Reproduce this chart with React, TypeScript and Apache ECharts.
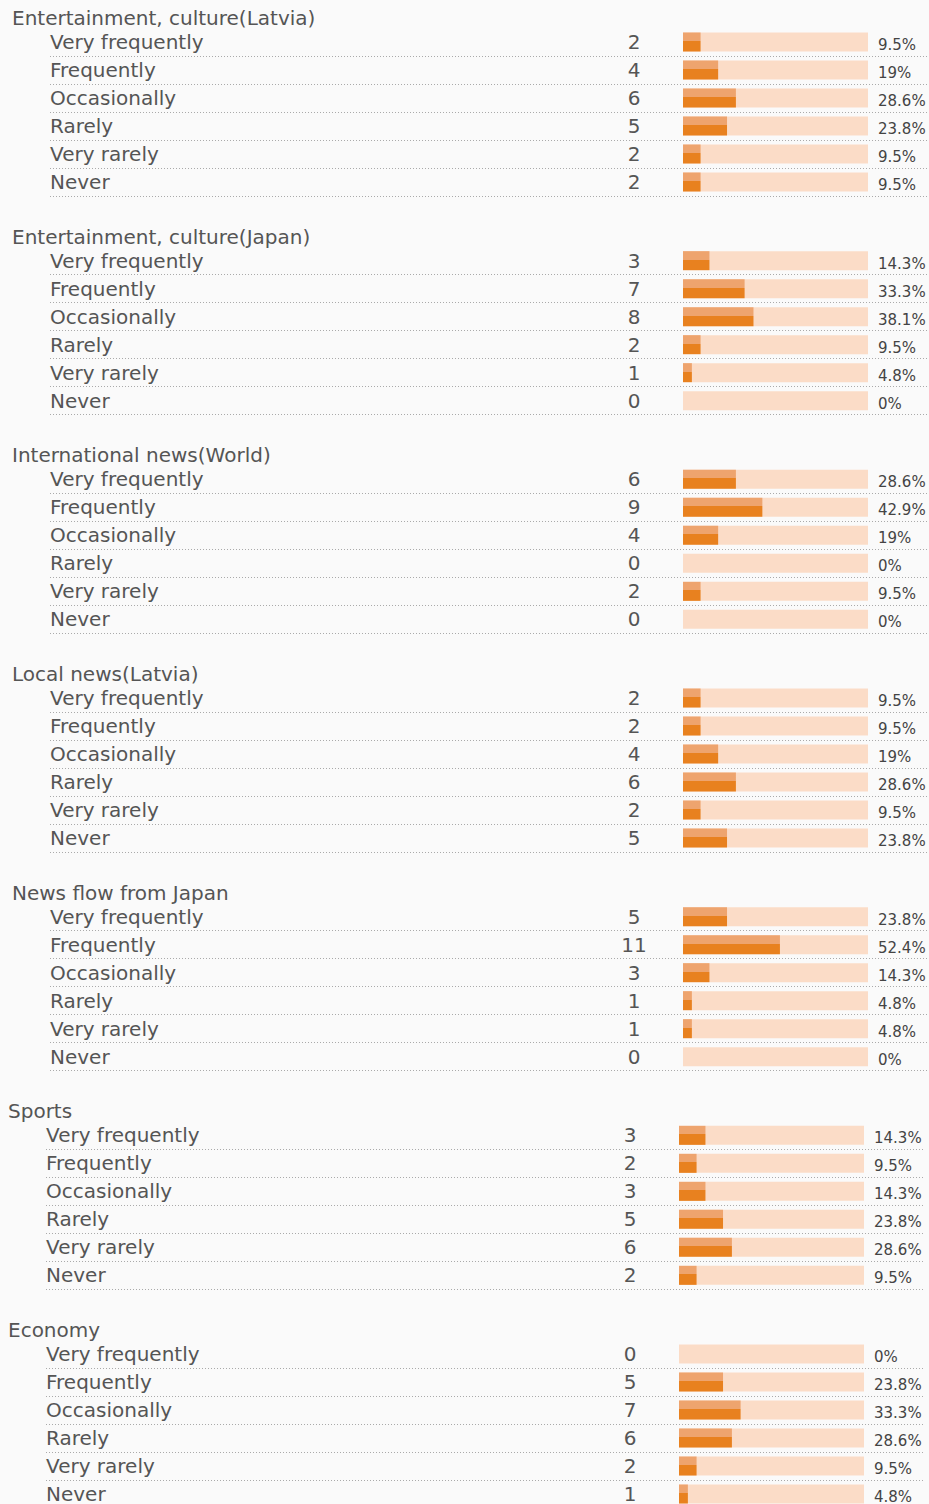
import React, { useEffect, useRef } from "react";
import * as echarts from "echarts";

const sectionTitles = [
  "Entertainment, culture(Latvia)",
  "Entertainment, culture(Japan)",
  "International news(World)",
  "Local news(Latvia)",
  "News flow from Japan",
  "Sports",
  "Economy",
];
const frequencyLabels = ["Very frequently", "Frequently", "Occasionally", "Rarely", "Very rarely", "Never"];
const countsLatviaCulture = [2, 4, 6, 5, 2, 2];
const countsJapanCulture = [3, 7, 8, 2, 1, 0];
const countsWorldNews = [6, 9, 4, 0, 2, 0];
const countsLatviaNews = [2, 2, 4, 6, 2, 5];
const countsJapanNewsFlow = [5, 11, 3, 1, 1, 0];
const countsSports = [3, 2, 3, 5, 6, 2];
const countsEconomy = [0, 5, 7, 6, 2, 1];
const sectionCounts = [
  countsLatviaCulture,
  countsJapanCulture,
  countsWorldNews,
  countsLatviaNews,
  countsJapanNewsFlow,
  countsSports,
  countsEconomy,
];

// layout
const W = 929;
const H = 1504;
const CANVAS_H = 1530;
const FIRST_TOP = 28;
const PITCH = 218.67;
const ROW_H = 28;
const LABEL_X = 50;
const TITLE_X = 12;
const TRACK_X = 683;
const TRACK_W = 185;
const LINE_END = 928;
const SHIFT = [0, 0, 0, 0, 0, -4, -4];
const FONT = "DejaVu Sans";
const TEXT = "#555555";

function pctOf(counts: number[]) {
  const total = counts.reduce((a, b) => a + b, 0);
  return counts.map((c) => Math.round((c / total) * 1000) / 10);
}

export default function App() {
  const ref = useRef<HTMLDivElement>(null);
  useEffect(() => {
    if (!ref.current) return;
    const chart = echarts.init(ref.current, null, { renderer: "svg" });
    const gridW = LINE_END - LABEL_X;
    const xMin = (-(TRACK_X - LABEL_X) / TRACK_W) * 100;
    const xMax = ((LINE_END - TRACK_X) / TRACK_W) * 100;
    const fillColor = new echarts.graphic.LinearGradient(0, 0, 0, 1, [
      { offset: 0, color: "#eea46e" },
      { offset: 0.45, color: "#eea46e" },
      { offset: 0.45, color: "#e8811f" },
      { offset: 1, color: "#e8811f" },
    ]);
    const grids: any[] = [];
    const xAxes: any[] = [];
    const yAxes: any[] = [];
    const series: any[] = [];
    const graphics: any[] = [];
    sectionTitles.forEach((title, i) => {
      const top = FIRST_TOP + i * PITCH;
      const dx = SHIFT[i];
      const counts = sectionCounts[i];
      const pcts = pctOf(counts);
      grids.push({ left: LABEL_X + dx, width: gridW, top, height: ROW_H * frequencyLabels.length });
      xAxes.push({ type: "value", gridIndex: i, min: xMin, max: xMax, show: false });
      yAxes.push({
        type: "category",
        gridIndex: i,
        data: frequencyLabels,
        inverse: true,
        axisLine: { show: false },
        axisTick: { show: false },
        axisLabel: {
          align: "left",
          margin: 0,
          color: TEXT,
          fontFamily: FONT,
          fontSize: 20,
          interval: 0,
        },
        splitLine: {
          show: true,
          showMinLine: false,
          interval: 0,
          lineStyle: { color: "#aaaaaa", type: [1, 2], width: 1 },
        },
      });
      series.push({
        type: "bar",
        xAxisIndex: i,
        yAxisIndex: i,
        data: frequencyLabels.map(() => 100),
        barWidth: 19,
        barGap: "-100%",
        silent: true,
        itemStyle: { color: "#fbdcc7" },
        label: {
          show: true,
          position: "right",
          distance: 10,
          formatter: (p: any) => `${pcts[p.dataIndex]}%`,
          color: "#444444",
          fontFamily: FONT,
          fontSize: 15,
          offset: [0, 3],
        },
      });
      series.push({
        type: "bar",
        xAxisIndex: i,
        yAxisIndex: i,
        data: pcts,
        barWidth: 19,
        barGap: "-100%",
        silent: true,
        itemStyle: { color: fillColor },
        label: {
          show: true,
          position: "left",
          distance: TRACK_X - 634,
          align: "center",
          formatter: (p: any) => String(counts[p.dataIndex]),
          color: TEXT,
          fontFamily: FONT,
          fontSize: 20,
        },
      });
      graphics.push({
        type: "text",
        x: TITLE_X + dx,
        y: top - 10,
        style: {
          text: title,
          fill: TEXT,
          font: `20px "${FONT}"`,
          verticalAlign: "middle",
          align: "left",
        },
      });
    });
    chart.setOption({
      animation: false,
      backgroundColor: "#fafafa",
      grid: grids,
      xAxis: xAxes,
      yAxis: yAxes,
      series,
      graphic: graphics,
    });
    return () => chart.dispose();
  }, []);
  return (
    <div
      style={{
        position: "absolute",
        left: 0,
        top: 0,
        width: W,
        height: H,
        overflow: "hidden",
        background: "#fafafa",
      }}
    >
      <div ref={ref} style={{ width: W, height: CANVAS_H }} />
    </div>
  );
}
